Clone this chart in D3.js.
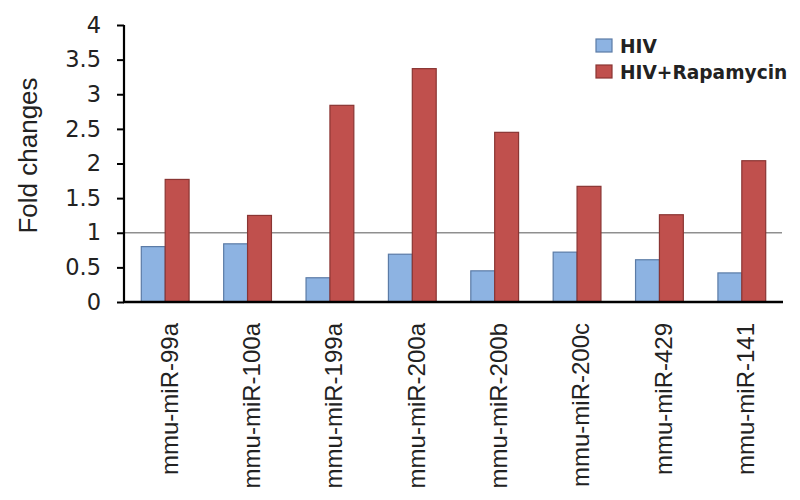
<!DOCTYPE html>
<html>
<head>
<meta charset="utf-8">
<script src="https://cdn.jsdelivr.net/npm/d3@7"></script>
<style>
  html, body { margin: 0; padding: 0; background: #fff; }
  svg { display: block; }
</style>
</head>
<body>
<svg id="chart" width="800" height="500"></svg>
<script>
const categories = ["mmu-miR-99a", "mmu-miR-100a", "mmu-miR-199a", "mmu-miR-200a", "mmu-miR-200b", "mmu-miR-200c", "mmu-miR-429", "mmu-miR-141"];
const seriesNames = ["HIV", "HIV+Rapamycin"];
const hivValues = [0.80, 0.84, 0.35, 0.69, 0.45, 0.72, 0.61, 0.42];
const rapaValues = [1.77, 1.25, 2.84, 3.37, 2.45, 1.67, 1.26, 2.04];
const yTicks = [0, 0.5, 1, 1.5, 2, 2.5, 3, 3.5, 4];
const yTickLabels = ["0", "0.5", "1", "1.5", "2", "2.5", "3", "3.5", "4"];
const referenceValue = 1;

(function () {
const fills = ["#8db3e2", "#c0504d"];
const strokes = ["#5b7ba6", "#8a3533"];

const svg = d3.select("#chart");
const pL = 124, pR = 783, pT = 25, pB = 302;

const x = d3.scaleBand().domain(categories).range([pL, pR]).paddingInner(0.42).paddingOuter(0.21);
const xs = d3.scaleBand().domain(seriesNames).range([0, x.bandwidth()]).padding(0);
const y = d3.scaleLinear().domain([0, 4]).range([pB, pT]);

const data = categories.map((c, i) => ({ cat: c, vals: [hivValues[i], rapaValues[i]] }));

// reference line at 1
svg.append("line")
  .attr("x1", pL).attr("x2", pR - 1)
  .attr("y1", y(referenceValue)).attr("y2", y(referenceValue))
  .attr("stroke", "#8f8f8f").attr("stroke-width", 1.3);

// bars
const g = svg.append("g");
data.forEach(d => {
  d.vals.forEach((v, k) => {
    g.append("rect")
      .attr("x", x(d.cat) + xs(seriesNames[k]))
      .attr("y", y(v))
      .attr("width", xs.bandwidth())
      .attr("height", y(0) - y(v))
      .attr("fill", fills[k])
      .attr("stroke", strokes[k])
      .attr("stroke-width", 1.2);
  });
});

// y axis
const yAxis = d3.axisLeft(y).tickValues(yTicks)
  .tickFormat((d, i) => yTickLabels[i]).tickSize(7).tickPadding(16);
const yg = svg.append("g").attr("transform", `translate(${pL},0)`).call(yAxis);
yg.select(".domain").attr("stroke", "#000").attr("stroke-width", 2.2)
  .attr("d", `M0,${pT}V${pB}`);
yg.selectAll(".tick line").attr("stroke", "#000").attr("stroke-width", 2);
yg.selectAll(".tick text")
  .attr("font-family", "DejaVu Sans, Arial, sans-serif")
  .attr("font-size", 22.5).attr("fill", "#222");

// x axis
const xAxis = d3.axisBottom(x).tickSize(0).tickPadding(0);
const xg = svg.append("g").attr("transform", `translate(0,${pB})`).call(xAxis);
xg.select(".domain").attr("stroke", "#000").attr("stroke-width", 2.4)
  .attr("d", `M${pL - 1},0H${pR}`);
xg.selectAll(".tick text")
  .attr("font-family", "Liberation Sans, Arial, sans-serif")
  .attr("font-size", 24).attr("fill", "#222")
  .attr("text-anchor", "end")
  .attr("transform", "translate(4,21) rotate(-90)")
  .attr("x", 0).attr("y", 0).attr("dy", "0.35em");

// y axis title
svg.append("text")
  .attr("transform", `translate(37,${(78 + 233) / 2}) rotate(-90)`)
  .attr("text-anchor", "middle")
  .attr("font-family", "Liberation Sans, Arial, sans-serif")
  .attr("font-size", 26).attr("fill", "#222")
  .text("Fold changes");

// legend
const legend = svg.append("g").attr("transform", "translate(596,39)");
seriesNames.forEach((name, k) => {
  const row = legend.append("g").attr("transform", `translate(0,${k * 26})`);
  row.append("rect").attr("x", 0).attr("y", 0).attr("width", 16).attr("height", 13)
    .attr("fill", fills[k]).attr("stroke", strokes[k]).attr("stroke-width", 1.2);
  row.append("text").attr("x", 24).attr("y", 14)
    .attr("font-family", "DejaVu Sans, sans-serif").attr("font-weight", "bold")
    .attr("font-size", 18.6).attr("fill", "#222")
    .text(name);
});
})();
</script>
</body>
</html>
